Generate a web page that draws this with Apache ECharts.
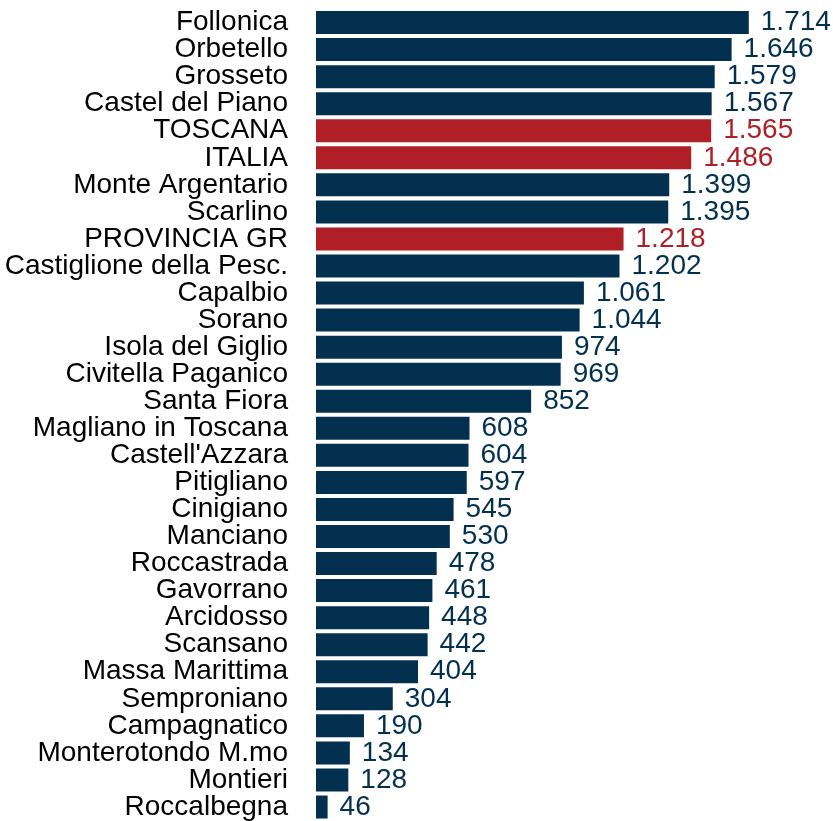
<!DOCTYPE html>
<html><head><meta charset="utf-8">
<script src="https://cdn.jsdelivr.net/npm/echarts@6/dist/echarts.min.js"></script>
<style>html,body{margin:0;padding:0;background:#fff}#c{width:833px;height:821px}</style>
</head><body><div id="c"></div>
<script>
const categories = ["Follonica","Orbetello","Grosseto","Castel del Piano","TOSCANA","ITALIA","Monte Argentario","Scarlino","PROVINCIA GR","Castiglione della Pesc.","Capalbio","Sorano","Isola del Giglio","Civitella Paganico","Santa Fiora","Magliano in Toscana","Castell'Azzara","Pitigliano","Cinigiano","Manciano","Roccastrada","Gavorrano","Arcidosso","Scansano","Massa Marittima","Semproniano","Campagnatico","Monterotondo M.mo","Montieri","Roccalbegna"];
const values = [1714,1646,1579,1567,1565,1486,1399,1395,1218,1202,1061,1044,974,969,852,608,604,597,545,530,478,461,448,442,404,304,190,134,128,46];
const highlighted = ["TOSCANA","ITALIA","PROVINCIA GR"];
const NAVY = '#04304f', RED = '#b01f26';
const fmt = v => v.toLocaleString('it-IT');
const chart = echarts.init(document.getElementById('c'));
chart.setOption({
  animation:false,
  grid:{left:316, right:12, top:9, bottom:-1, containLabel:false},
  xAxis:{type:'value', min:0, max:2000, show:false},
  yAxis:{type:'category', inverse:true, data:categories,
    axisLabel:{interval:0, margin:28, fontFamily:'Liberation Sans', fontSize:28, color:'#000', padding:[3,0,0,0]},
    axisLine:{show:false}, axisTick:{show:false}},
  series:[{type:'bar', barCategoryGap:'15%',
    data: values.map((v,i)=>{const c = highlighted.includes(categories[i])?RED:NAVY; return {value:v, itemStyle:{color:c}, label:{color:c}};}),
    label:{show:true, position:'right', distance:12, fontFamily:'Liberation Sans', fontSize:28, padding:[3,0,0,0], formatter:p=>fmt(p.value)}
  }]
});
</script></body></html>
